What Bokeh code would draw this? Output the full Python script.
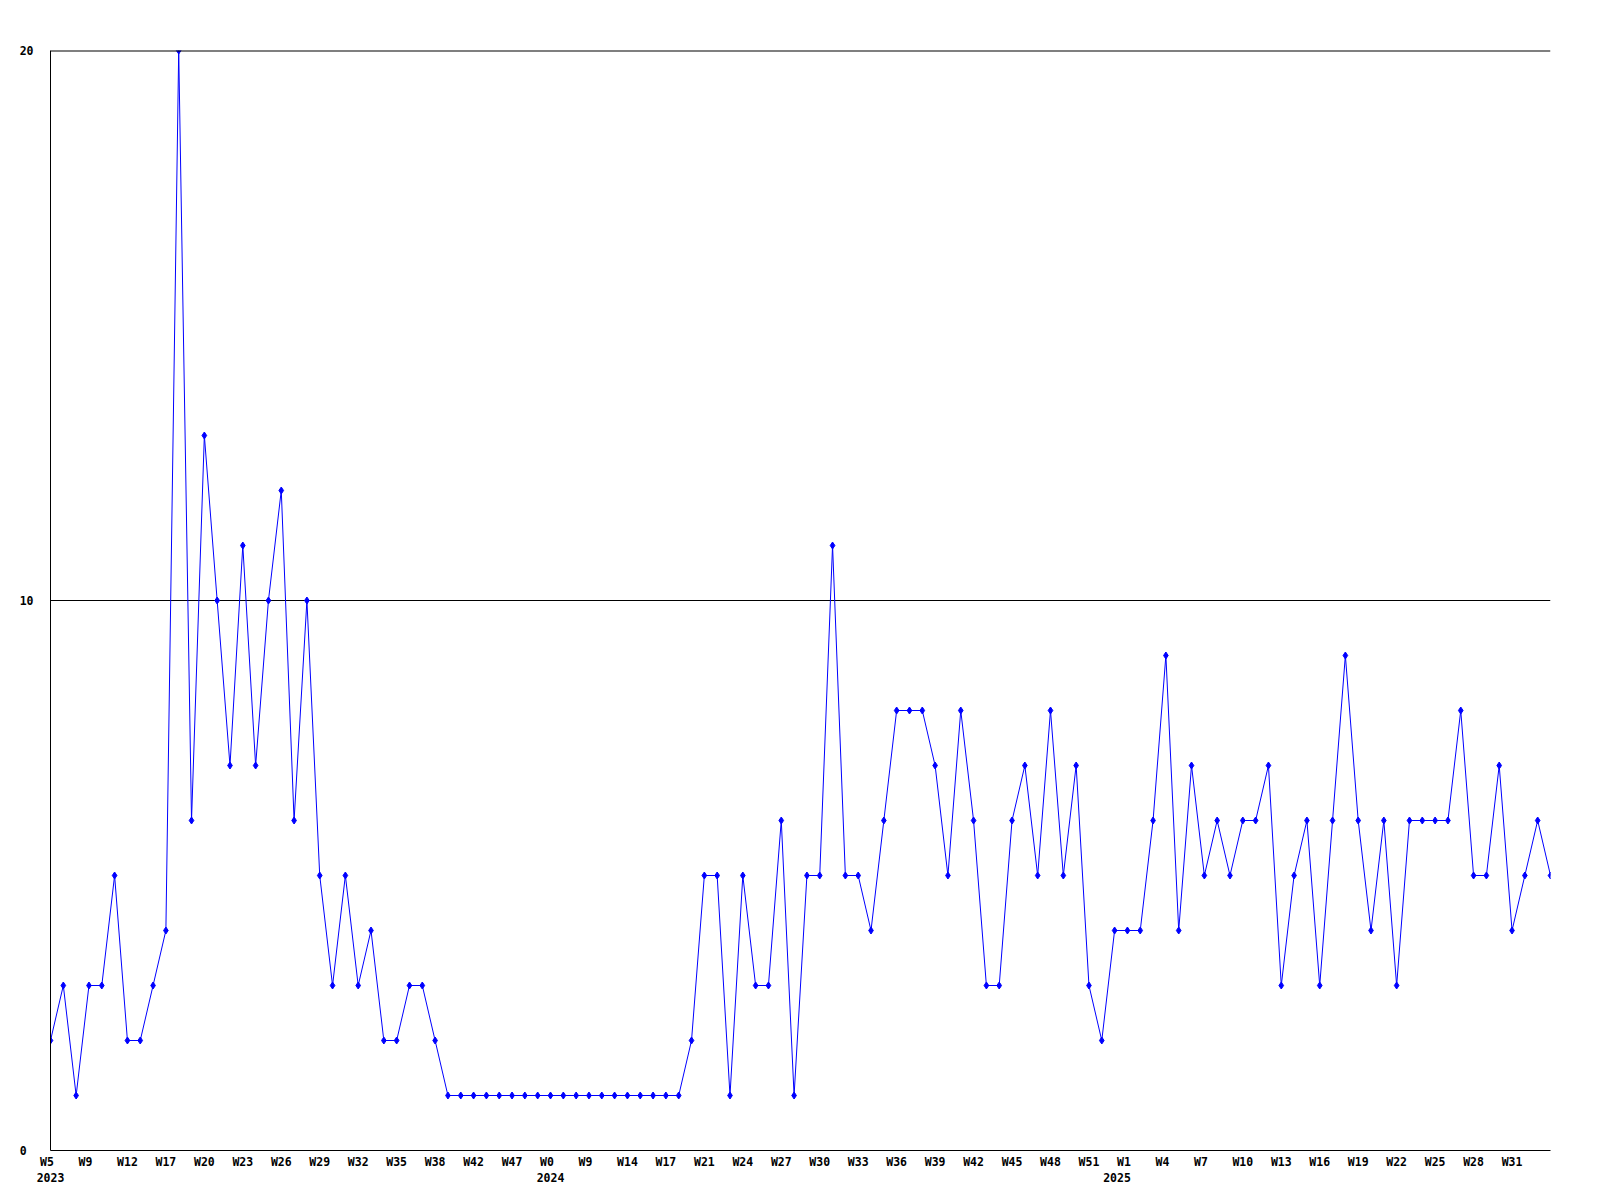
from bokeh.plotting import figure
from bokeh.models import FixedTicker, Range1d, Span
from bokeh.embed import file_html
from bokeh.resources import INLINE

# weekly counts, one per plotted point
counts = [
    2, 3, 1, 3, 3, 5, 2, 2, 3, 4, 20, 6, 13, 10, 7, 11, 7, 10, 12, 6,
    10, 5, 3, 5, 3, 4, 2, 2, 3, 3, 2,
    1, 1, 1, 1, 1, 1, 1, 1, 1, 1, 1, 1, 1, 1, 1, 1, 1, 1, 1,
    2, 5, 5, 1, 5, 3, 3, 6, 1, 5, 5, 11, 5, 5, 4, 6, 8, 8, 8, 7,
    5, 8, 6, 3, 3, 6, 7, 5, 8, 5, 7, 3, 2, 4, 4, 4, 6, 9, 4, 7,
    5, 6, 5, 6, 6, 7, 3, 5, 6, 3, 6, 9, 6, 4, 6, 3, 6, 6, 6, 6,
    8, 5, 5, 7, 4, 5, 6, 5,
]

# labels shown on every third point
week_labels = [
    "W5", "W9", "W12", "W17", "W20", "W23", "W26", "W29", "W32", "W35", "W38", "W42", "W47",
    "W0", "W9", "W14", "W17", "W21", "W24", "W27", "W30", "W33", "W36", "W39", "W42", "W45",
    "W48", "W51",
    "W1", "W4", "W7", "W10", "W13", "W16", "W19", "W22", "W25", "W28", "W31",
]
# year shown under the n-th week label
year_labels = {0: "2023", 13: "2024", 28: "2025"}

y_ticks = [0, 10, 20]
y_tick_labels = ["0", "10", "20"]

LABEL_STEP = 3
FONT = "DejaVu Sans Mono"
NBSP = "\u00a0"
YEAR_PAD = {28: 3}   # small leftward nudge of a year label (in characters)

x = list(range(len(counts)))

p = figure(
    frame_width=1500, frame_height=1100,
    x_range=Range1d(0, len(counts) - 1), y_range=Range1d(0, 20),
    output_backend="svg", toolbar_location=None,
    min_border_left=50, min_border_top=50, min_border_right=30, min_border_bottom=40,
    background_fill_color="white", border_fill_color="white",
    outline_line_color=None,
)

# grid
p.xgrid.visible = False
p.ygrid.ticker = FixedTicker(ticks=[10, 20])
p.ygrid.grid_line_color = "black"
p.ygrid.grid_line_width = 1
p.add_layout(Span(location=y_ticks[-1], dimension="width", line_color="black", line_width=2))

# y axis
p.yaxis.ticker = FixedTicker(ticks=y_ticks)
p.yaxis.major_label_overrides = {
    t: (lab if len(lab) >= 2 else lab + NBSP * (2 - len(lab)))
    for t, lab in zip(y_ticks, y_tick_labels)
}
p.yaxis.major_tick_line_color = None
p.yaxis.minor_tick_line_color = None
p.yaxis.major_tick_out = 0
p.yaxis.major_tick_in = 0
p.yaxis.major_label_standoff = 17
p.yaxis.axis_line_color = "black"

# x axis
tick_pos = list(range(0, len(counts), LABEL_STEP))[: len(week_labels)]
overrides = {}
for k, (pos, lab) in enumerate(zip(tick_pos, week_labels)):
    txt = lab if len(lab) >= 3 else lab + NBSP * (3 - len(lab))
    if k in year_labels:
        txt = txt + "\n" + year_labels[k] + NBSP * YEAR_PAD.get(k, 0)
    overrides[pos] = txt
p.xaxis.ticker = FixedTicker(ticks=tick_pos)
p.xaxis.major_label_overrides = overrides
p.xaxis.major_tick_line_color = None
p.xaxis.minor_tick_line_color = None
p.xaxis.major_tick_out = 0
p.xaxis.major_tick_in = 0
p.xaxis.major_label_standoff = 4
p.xaxis.axis_line_color = "black"
p.xaxis.major_label_text_line_height = 1.2

for ax in (p.xaxis, p.yaxis):
    ax.major_label_text_font = FONT
    ax.major_label_text_font_style = "bold"
    ax.major_label_text_font_size = "11.5px"
    ax.major_label_text_color = "black"

p.line(x, counts, line_color="#0000ff", line_width=1)
p.scatter(x, counts, marker="diamond", size=7, fill_color="#0000ff", line_color="#0000ff")

open("out.html", "w").write(file_html(p, INLINE))
